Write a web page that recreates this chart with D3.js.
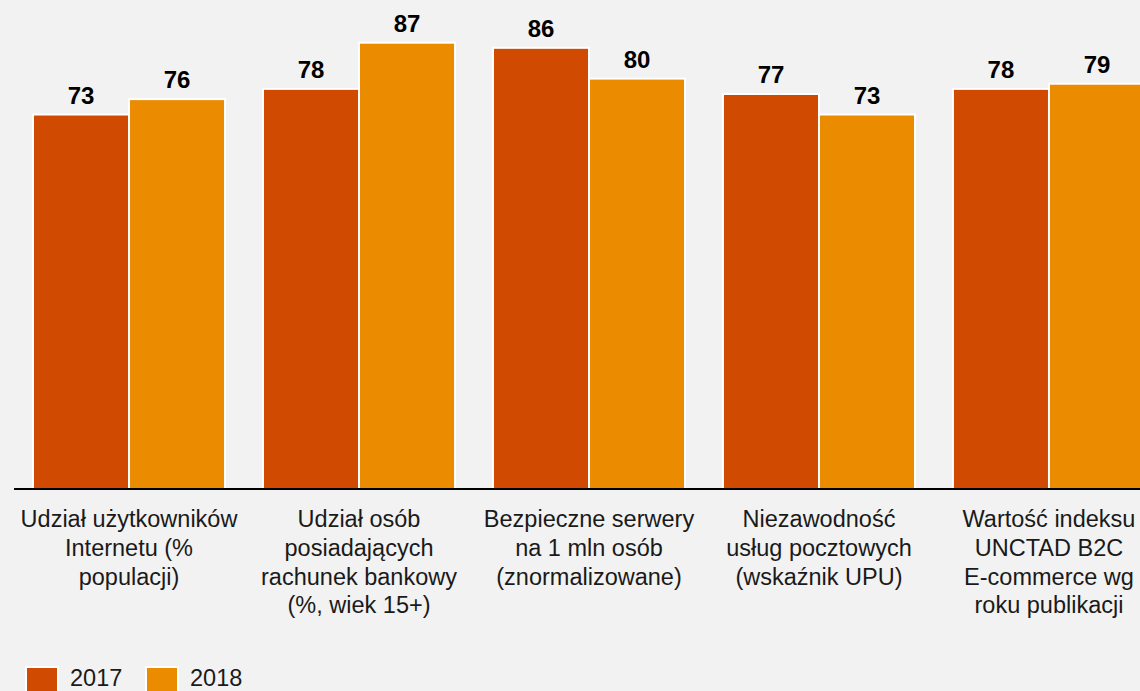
<!DOCTYPE html>
<html>
<head>
<meta charset="utf-8">
<script src="https://cdn.jsdelivr.net/npm/d3@7"></script>
<style>
  html, body { margin: 0; padding: 0; background: #f2f2f2; }
  svg { display: block; }
  text { font-family: "Liberation Sans", Arial, sans-serif; }
</style>
</head>
<body>
<svg id="chart" width="1140" height="691"></svg>
<script>
const categories = [
  ["Udział użytkowników", "Internetu (%", "populacji)"],
  ["Udział osób", "posiadających", "rachunek bankowy", "(%, wiek 15+)"],
  ["Bezpieczne serwery", "na 1 mln osób", "(znormalizowane)"],
  ["Niezawodność", "usług pocztowych", "(wskaźnik UPU)"],
  ["Wartość indeksu", "UNCTAD B2C", "E-commerce wg", "roku publikacji"]
];
const seriesNames = ["2017", "2018"];
const values2017 = [73, 78, 86, 77, 78];
const values2018 = [76, 87, 80, 73, 79];
const colors = ["#d04a02", "#eb8c00"];

const svg = d3.select("#chart");
const baseY = 489;

const x0 = d3.scaleBand()
  .domain(d3.range(categories.length))
  .range([14, 1164])
  .paddingInner(0.165)
  .paddingOuter(0.0826);

const x1 = d3.scaleBand()
  .domain(seriesNames)
  .range([0, x0.bandwidth()]);

const y = d3.scaleLinear().domain([0, 90]).range([baseY, baseY - 90 * 5.13]);

const data = categories.map((c, i) => ({
  i, vals: [values2017[i], values2018[i]]
}));

const groups = svg.selectAll("g.grp").data(data).enter().append("g")
  .attr("class", "grp")
  .attr("transform", d => `translate(${x0(d.i)},0)`);

groups.selectAll("rect").data(d => d.vals.map((v, k) => ({ v, k })))
  .enter().append("rect")
  .attr("x", d => x1(seriesNames[d.k]))
  .attr("width", x1.bandwidth())
  .attr("y", d => y(d.v))
  .attr("height", d => baseY - y(d.v))
  .attr("fill", d => colors[d.k])
  .attr("stroke", "#ffffff")
  .attr("stroke-width", 2);

groups.selectAll("text.val").data(d => d.vals.map((v, k) => ({ v, k })))
  .enter().append("text")
  .attr("class", "val")
  .attr("x", d => x1(seriesNames[d.k]) + x1.bandwidth() / 2)
  .attr("y", d => y(d.v) - 11)
  .attr("text-anchor", "middle")
  .attr("font-size", 24)
  .attr("font-weight", "bold")
  .attr("fill", "#000")
  .text(d => d.v);

// axis baseline
const axis = d3.axisBottom(x0).tickSize(0).tickFormat("");
svg.append("g")
  .attr("transform", `translate(0,${baseY})`)
  .call(axis)
  .call(g => g.select(".domain").attr("stroke", "#000").attr("stroke-width", 2)
    .attr("d", "M14,0H1140"));

// category labels
const lab = svg.append("g");
categories.forEach((lines, i) => {
  const t = lab.append("text")
    .attr("x", x0(i) + x0.bandwidth() / 2)
    .attr("y", 527)
    .attr("text-anchor", "middle")
    .attr("font-size", 23.5)
    .attr("fill", "#1a1a1a");
  lines.forEach((ln, j) => {
    t.append("tspan")
      .attr("x", x0(i) + x0.bandwidth() / 2)
      .attr("y", 527 + j * 28.8)
      .text(ln);
  });
});

// legend
const legX = [26, 146];
seriesNames.forEach((s, k) => {
  svg.append("rect")
    .attr("x", legX[k]).attr("y", 667)
    .attr("width", 32).attr("height", 32)
    .attr("fill", colors[k])
    .attr("stroke", "#fff").attr("stroke-width", 2);
  svg.append("text")
    .attr("x", legX[k] + 44).attr("y", 686)
    .attr("font-size", 23.5)
    .attr("fill", "#1a1a1a")
    .text(s);
});
</script>
</body>
</html>
